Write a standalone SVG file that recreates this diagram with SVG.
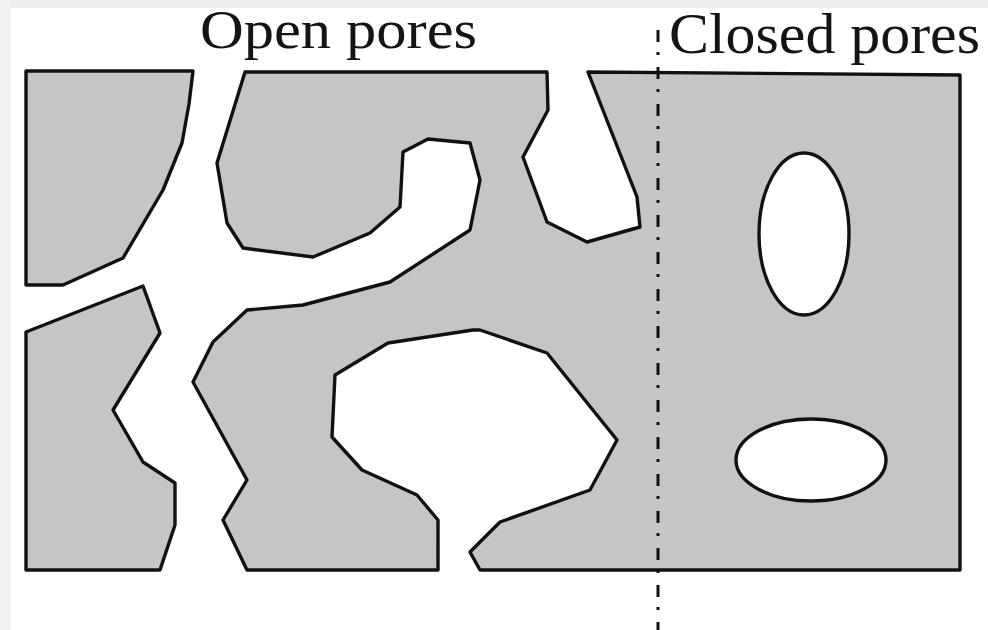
<svg xmlns="http://www.w3.org/2000/svg" width="988" height="630" viewBox="0 0 988 630">
  <style>
    .solid { fill: #c5c5c5; stroke: #111111; stroke-width: 3.4; stroke-linejoin: round; }
    .pore { fill: #ffffff; stroke: #111111; stroke-width: 3.4; }
    .label { font-family: "Liberation Serif", "Times New Roman", serif; fill: #141414; }
    .divider { stroke: #111111; stroke-width: 3; stroke-dasharray: 12 10 3 12; fill: none; }
  </style>

  <!-- page background and thin frame strips -->
  <rect x="0" y="0" width="988" height="630" fill="#ffffff"/>
  <rect x="0" y="0" width="988" height="8" fill="#efefef"/>
  <rect x="0" y="0" width="11" height="630" fill="#f1f1f1"/>

  <!-- solid material pieces; white gaps between them are the open pores -->
  <g id="solid-top-left">
    <path class="solid" d="M26,71 L193,71 L189,104 L182,143 L163,190 L123,258 L63,285 L26,285 Z"/>
  </g>
  <g id="solid-bottom-left">
    <path class="solid" d="M26,332 L143,286 L160,333 L113,410 L143,462 L175,483 L175,525 L160,570 L26,570 Z"/>
  </g>
  <g id="solid-main">
    <path class="solid" d="M245,72 L547,72 L548,110 L523,157 L547,222 L587,242 L640,227 L637,197 L588,72
      L960,75 L960,570 L480,570 L470,552 L500,522 L590,490 L617,440 L547,353 L480,330 L473,330
      L388,343 L335,375 L332,437 L362,470 L417,495 L438,520 L438,570 L247,570 L223,520 L247,480
      L193,382 L213,342 L247,310 L303,305 L390,282 L470,230 L480,180 L470,143 L428,139 L403,152
      L400,207 L370,233 L313,257 L243,248 L227,223 L217,163 Z"/>
  </g>

  <!-- closed pores -->
  <g id="closed-pore-upper">
    <ellipse class="pore" cx="804" cy="234" rx="45" ry="81"/>
  </g>
  <g id="closed-pore-lower">
    <ellipse class="pore" cx="811" cy="460" rx="75" ry="41"/>
  </g>

  <!-- dash-dot divider between the two regions -->
  <g id="connectors">
    <line class="divider" x1="658" y1="30" x2="658" y2="630"/>
  </g>

  <!-- labels -->
  <g id="label-open">
    <text class="label" x="200" y="48" font-size="55" textLength="277" lengthAdjust="spacingAndGlyphs">Open pores</text>
  </g>
  <g id="label-closed">
    <text class="label" x="669" y="53" font-size="57" textLength="311" lengthAdjust="spacingAndGlyphs">Closed pores</text>
  </g>
</svg>
